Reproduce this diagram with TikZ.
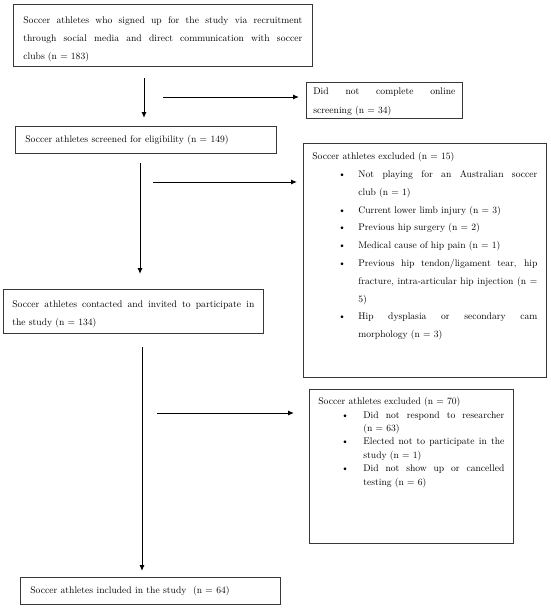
\documentclass[tikz,border=0pt]{standalone}
\usetikzlibrary{arrows.meta}
\newcommand\txtsz[1]{\fontsize{9.6}{#1}\selectfont\hyphenpenalty=10000\exhyphenpenalty=10000\parindent=0pt\rule{0pt}{7pt}}
\newcommand\bitem[3]{\par\hangindent=#2\hangafter=1\noindent\makebox[#2][l]{\hspace{#1}\textbullet}#3}
\tikzset{
  box/.style={draw=black!78, line width=0.8pt, inner sep=0pt, anchor=north west, text=black},
  arr/.style={-{Latex[length=6pt,width=5pt]}, line width=1pt, black},
}
\begin{document}
\begin{tikzpicture}[x=1pt,y=-1pt]
\useasboundingbox (0,0) rectangle (550,608);
\fill[white] (0,0) rectangle (550,608);

\node[box, inner xsep=10pt] (b1) at (13,4) {\begin{minipage}[t][62pt][t]{279pt}\vspace*{12pt}\txtsz{18}Soccer athletes who signed up for the study via recruitment\linebreak through social media and direct communication with soccer\linebreak clubs (n = 183)\end{minipage}};

\node[box, inner xsep=7pt] (d1) at (306,82) {\begin{minipage}[t][36pt][t]{142pt}\vspace*{5pt}\txtsz{19}Did not complete online\linebreak screening (n = 34)\end{minipage}};

\node[box, inner xsep=10pt, inner ysep=0pt, minimum width=261pt, minimum height=27pt, align=left, text width=241pt] (b2) at (15,126) {\txtsz{11}Soccer athletes screened for eligibility (n = 149)};

\node[box, inner xsep=9pt] (e1) at (303,143) {\begin{minipage}[t][234pt][t]{225pt}\vspace*{9pt}\txtsz{17.8}Soccer athletes excluded (n = 15)
\bitem{26pt}{46pt}{Not playing for an Australian soccer\linebreak club (n = 1)}
\bitem{26pt}{46pt}{Current lower limb injury (n = 3)}
\bitem{26pt}{46pt}{Previous hip surgery (n = 2)}
\bitem{26pt}{46pt}{Medical cause of hip pain (n = 1)}
\bitem{26pt}{46pt}{Previous hip tendon/ligament tear, hip\linebreak fracture, intra-articular hip injection (n =\linebreak 5)}
\bitem{26pt}{46pt}{Hip dysplasia or secondary cam\linebreak morphology (n = 3)}\par\end{minipage}};

\node[box, inner xsep=9pt] (b3) at (3,289) {\begin{minipage}[t][44pt][t]{242pt}\vspace*{11pt}\txtsz{18}Soccer athletes contacted and invited to participate in\linebreak the study (n = 134)\end{minipage}};

\node[box, inner xsep=9pt] (e2) at (309,389) {\begin{minipage}[t][154pt][t]{186pt}\vspace*{8pt}\txtsz{13.4}Soccer athletes excluded (n = 70)
\bitem{23pt}{45pt}{Did not respond to researcher\linebreak (n = 63)}
\bitem{23pt}{45pt}{Elected not to participate in the\linebreak study (n = 1)}
\bitem{23pt}{45pt}{Did not show up or cancelled\linebreak testing (n = 6)}\par\end{minipage}};

\node[box, inner xsep=10pt, inner ysep=0pt, minimum width=260pt, minimum height=27pt, align=left, text width=240pt] (b4) at (20,577) {\txtsz{11}Soccer athletes included in the study\ \ (n = 64)};

\coordinate (v1s) at (144,78);
\coordinate (v2s) at (140,163);
\coordinate (v3s) at (142,347);
\coordinate (h1s) at (163,97);
\coordinate (h2s) at (153,182);
\coordinate (h3s) at (157,413);

\draw[arr, shorten >=8pt] (v1s) -- (v1s |- b2.north);
\draw[arr, shorten >=15pt] (v2s) -- (v2s |- b3.north);
\draw[arr, shorten >=6pt] (v3s) -- (v3s |- b4.north);
\draw[arr, shorten >=7pt] (h1s) -- (h1s -| d1.west);
\draw[arr, shorten >=6pt] (h2s) -- (h2s -| e1.west);
\draw[arr, shorten >=15pt] (h3s) -- (h3s -| e2.west);
\end{tikzpicture}
\end{document}
